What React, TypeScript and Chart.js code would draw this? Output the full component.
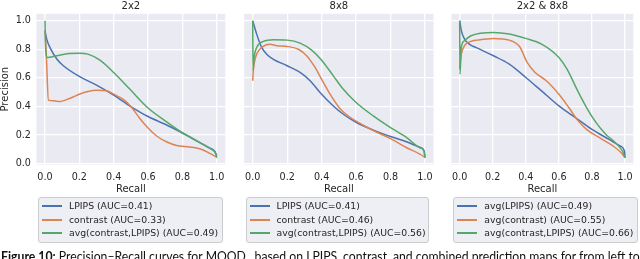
import React, { useEffect, useRef } from 'react';
import { Chart, registerables } from 'chart.js';
Chart.register(...registerables);

// ---------- data ----------
const tickValues = [0, 0.2, 0.4, 0.6, 0.8, 1.0];
const tickLabels = ['0.0', '0.2', '0.4', '0.6', '0.8', '1.0'];
const panelTitles = ['2x2', '8x8', '2x2 & 8x8'];
const xAxisTitle = 'Recall';
const yAxisTitle = 'Precision';

const legend2x2 = ['LPIPS (AUC=0.41)', 'contrast (AUC=0.33)', 'avg(contrast,LPIPS) (AUC=0.49)'];
const legend8x8 = ['LPIPS (AUC=0.41)', 'contrast (AUC=0.46)', 'avg(contrast,LPIPS) (AUC=0.56)'];
const legendBoth = ['avg(LPIPS) (AUC=0.49)', 'avg(contrast) (AUC=0.55)', 'avg(contrast,LPIPS) (AUC=0.66)'];

// 2x2
const recall2x2Lpips = [0, 0.01, 0.03, 0.07, 0.107, 0.2, 0.3, 0.4, 0.5, 0.6, 0.7, 0.8, 0.9, 0.95, 0.99, 1.0];
const precision2x2Lpips = [0.93, 0.87, 0.81, 0.73, 0.685, 0.61, 0.55, 0.48, 0.40, 0.33, 0.276, 0.215, 0.15, 0.115, 0.085, 0.055];
const recall2x2Contrast = [0, 0.008, 0.02, 0.05, 0.085, 0.15, 0.2, 0.25, 0.3, 0.36, 0.4, 0.456, 0.5, 0.55, 0.6, 0.65, 0.71, 0.767, 0.845, 0.913, 0.96, 1.0];
const precision2x2Contrast = [0.93, 0.75, 0.445, 0.44, 0.435, 0.46, 0.486, 0.505, 0.514, 0.51, 0.486, 0.45, 0.40, 0.32, 0.25, 0.194, 0.152, 0.128, 0.117, 0.10, 0.072, 0.047];
const recall2x2Avg = [0, 0.004, 0.014, 0.068, 0.14, 0.2, 0.25, 0.32, 0.4, 0.495, 0.6, 0.7, 0.8, 0.9, 0.97, 0.996, 1.0];
const precision2x2Avg = [1.0, 0.8, 0.743, 0.755, 0.77, 0.772, 0.766, 0.724, 0.638, 0.52, 0.39, 0.30, 0.217, 0.147, 0.10, 0.065, 0.042];

// 8x8
const recall8x8Lpips = [0, 0.023, 0.052, 0.081, 0.12, 0.2, 0.275, 0.333, 0.4, 0.468, 0.526, 0.6, 0.7, 0.8, 0.9, 0.97, 0.995, 1.0];
const precision8x8Lpips = [1.0, 0.906, 0.813, 0.766, 0.73, 0.685, 0.638, 0.58, 0.486, 0.404, 0.346, 0.29, 0.235, 0.19, 0.15, 0.115, 0.09, 0.045];
const recall8x8Contrast = [0, 0.004, 0.01, 0.023, 0.052, 0.1, 0.14, 0.2, 0.265, 0.313, 0.362, 0.4, 0.449, 0.507, 0.565, 0.6, 0.7, 0.8, 0.894, 0.994, 1.0];
const precision8x8Contrast = [0.58, 0.66, 0.71, 0.766, 0.813, 0.836, 0.825, 0.82, 0.80, 0.755, 0.673, 0.59, 0.486, 0.385, 0.325, 0.298, 0.232, 0.175, 0.112, 0.049, 0.042];
const recall8x8Avg = [0, 0.002, 0.008, 0.023, 0.062, 0.12, 0.2, 0.275, 0.342, 0.4, 0.468, 0.526, 0.6, 0.7, 0.8, 0.894, 0.97, 0.994, 1.0];
const precision8x8Avg = [1.0, 0.65, 0.743, 0.813, 0.855, 0.867, 0.864, 0.843, 0.794, 0.724, 0.614, 0.52, 0.428, 0.334, 0.252, 0.182, 0.112, 0.089, 0.042];

// 2x2 & 8x8
const recallBothLpips = [0, 0.01, 0.029, 0.058, 0.107, 0.204, 0.3, 0.4, 0.495, 0.6, 0.7, 0.8, 0.903, 0.97, 0.996, 1.0];
const precisionBothLpips = [1.0, 0.93, 0.872, 0.836, 0.808, 0.755, 0.696, 0.603, 0.509, 0.404, 0.322, 0.24, 0.17, 0.124, 0.089, 0.045];
const recallBothContrast = [0, 0.004, 0.01, 0.029, 0.068, 0.107, 0.204, 0.3, 0.363, 0.408, 0.456, 0.524, 0.6, 0.66, 0.709, 0.767, 0.845, 0.922, 0.977, 1.0];
const precisionBothContrast = [0.66, 0.72, 0.766, 0.825, 0.855, 0.864, 0.876, 0.864, 0.818, 0.708, 0.638, 0.58, 0.486, 0.393, 0.31, 0.24, 0.182, 0.128, 0.077, 0.042];
const recallBothAvg = [0, 0.002, 0.01, 0.029, 0.068, 0.204, 0.3, 0.4, 0.495, 0.6, 0.65, 0.709, 0.767, 0.825, 0.883, 0.942, 0.984, 1.0];
const precisionBothAvg = [1.0, 0.626, 0.813, 0.86, 0.895, 0.918, 0.907, 0.876, 0.836, 0.743, 0.66, 0.52, 0.393, 0.287, 0.206, 0.147, 0.089, 0.042];

// ---------- style / layout ----------
const COLORS = ['#4C72B0', '#DD8452', '#55A868'];
const TEXT = '#262626';
const FONT = 'DejaVu Sans';
const W = 640;
const H = 259;
const PLOT_TOP = 13.8;
const PLOT_BOTTOM = 164.6;
const X_AXIS_H = 31;

const panelGeom = [
  { plotLeft: 36.4, plotRight: 225.3, showY: true, legendLeft: 38, legendWidth: 185 },
  { plotLeft: 244.1, plotRight: 433.6, showY: false, legendLeft: 245.5, legendWidth: 183.5 },
  { plotLeft: 451.4, plotRight: 640, showY: false, legendLeft: 453.3, legendWidth: 185 },
];

const pts = (xs: number[], ys: number[]) => xs.map((x, i) => ({ x, y: ys[i] }));

const panelSeries = [
  [pts(recall2x2Lpips, precision2x2Lpips), pts(recall2x2Contrast, precision2x2Contrast), pts(recall2x2Avg, precision2x2Avg)],
  [pts(recall8x8Lpips, precision8x8Lpips), pts(recall8x8Contrast, precision8x8Contrast), pts(recall8x8Avg, precision8x8Avg)],
  [pts(recallBothLpips, precisionBothLpips), pts(recallBothContrast, precisionBothContrast), pts(recallBothAvg, precisionBothAvg)],
];
const panelLegends = [legend2x2, legend8x8, legendBoth];

const bgPlugin = {
  id: 'plotBg',
  beforeDraw(chart: any) {
    const { ctx, chartArea } = chart;
    ctx.save();
    ctx.fillStyle = '#EAEAF2';
    ctx.fillRect(chartArea.left, chartArea.top, chartArea.right - chartArea.left, chartArea.bottom - chartArea.top);
    ctx.restore();
  },
};

const setTicks = (scale: any) => {
  scale.ticks = tickValues.map((v) => ({ value: v }));
};

function Panel({ idx }: { idx: number }) {
  const ref = useRef<HTMLCanvasElement>(null);
  useEffect(() => {
    const g = panelGeom[idx];
    const yW = g.showY ? g.plotLeft : 0;
    const chart = new Chart(ref.current as HTMLCanvasElement, {
      type: 'line',
      data: {
        datasets: panelSeries[idx].map((d, i) => ({
          data: d,
          borderColor: COLORS[i],
          backgroundColor: COLORS[i],
          borderWidth: 1.5,
          pointRadius: 0,
          fill: false,
          cubicInterpolationMode: 'monotone',
          order: 2 - i,
        })),
      },
      options: {
        responsive: false,
        animation: false,
        devicePixelRatio: 1,
        layout: {
          padding: {
            left: g.plotLeft - yW,
            right: Math.max(0, W - g.plotRight),
            top: 0,
            bottom: H - PLOT_BOTTOM - X_AXIS_H,
          },
        },
        plugins: {
          legend: { display: false },
          tooltip: { enabled: false },
          title: {
            display: true,
            text: panelTitles[idx],
            fullSize: false,
            color: TEXT,
            font: { family: FONT, size: 10, weight: 'normal', lineHeight: 1.2 },
            padding: { top: 0, bottom: PLOT_TOP - 12 },
          },
        },
        scales: {
          x: {
            type: 'linear',
            min: -0.05,
            max: 1.05,
            afterBuildTicks: setTicks,
            afterFit: (s: any) => { s.height = X_AXIS_H; },
            border: { display: false },
            grid: { color: '#ffffff', lineWidth: 1.3, drawTicks: false },
            ticks: {
              autoSkip: false,
              maxRotation: 0,
              padding: 7,
              color: TEXT,
              font: { family: FONT, size: 9.6 },
              callback: (_v: any, i: number) => tickLabels[i],
            },
            title: {
              display: true,
              text: xAxisTitle,
              color: TEXT,
              font: { family: FONT, size: 10, lineHeight: 1.2 },
              padding: 0,
            },
          },
          y: {
            type: 'linear',
            min: -0.006,
            max: 1.048,
            afterBuildTicks: setTicks,
            afterFit: (s: any) => { s.width = yW; },
            border: { display: false },
            grid: { color: '#ffffff', lineWidth: 1.3, drawTicks: false },
            ticks: {
              display: g.showY,
              padding: 5.5,
              color: TEXT,
              font: { family: FONT, size: 9.6 },
              callback: (_v: any, i: number) => tickLabels[i],
            },
            title: {
              display: g.showY,
              text: yAxisTitle,
              color: TEXT,
              font: { family: FONT, size: 10, lineHeight: 1 },
              padding: 0,
            },
          },
        },
      },
      plugins: [bgPlugin],
    } as any);
    return () => chart.destroy();
  }, [idx]);
  return (
    <canvas
      ref={ref}
      width={W}
      height={H}
      style={{ position: 'absolute', left: 0, top: 0, width: W, height: H }}
    />
  );
}

function Legend({ idx }: { idx: number }) {
  const g = panelGeom[idx];
  const rowTops = [8, 22, 35];
  const top = 197;
  return (
    <div
      style={{
        position: 'absolute',
        left: g.legendLeft,
        top,
        width: g.legendWidth,
        height: 46,
        boxSizing: 'border-box',
        border: '1px solid #cccccc',
        borderRadius: 3,
        background: 'rgba(234,234,242,0.8)',
      }}
    >
      {panelLegends[idx].map((label, i) => (
        <div key={i} style={{ position: 'absolute', left: 0, top: rowTops[i] - 7, height: 14, width: '100%' }}>
          <div style={{ position: 'absolute', left: 3, top: 6, width: 20, height: 2, background: COLORS[i] }} />
          <span
            style={{
              position: 'absolute',
              left: 30,
              top: 0,
              lineHeight: '14px',
              fontSize: 9.3,
              fontFamily: FONT,
              color: TEXT,
              whiteSpace: 'nowrap',
            }}
          >
            {label}
          </span>
        </div>
      ))}
    </div>
  );
}

function Caption() {
  const ref = useRef<HTMLSpanElement>(null);
  useEffect(() => {
    const el = ref.current;
    if (el) {
      const w = el.scrollWidth;
      el.style.transform = `scaleX(${639 / w})`;
    }
  }, []);
  return (
    <div style={{ position: 'absolute', left: 1, top: 246.5, width: 640, overflow: 'visible' }}>
      <span
        ref={ref}
        style={{
          display: 'inline-block',
          whiteSpace: 'nowrap',
          transformOrigin: 'left top',
          fontFamily: 'Lato',
          fontSize: 14,
          lineHeight: 'normal',
          color: '#111',
        }}
      >
        <b>Figure 10:</b> Precision–Recall curves for MOOD<span style={{ fontSize: 8 }}> . . </span> based on LPIPS, contrast, and combined prediction maps for from left to
      </span>
    </div>
  );
}

export default function App() {
  return (
    <div style={{ position: 'absolute', left: 0, top: 0, width: W, height: H, overflow: 'hidden', background: '#fff' }}>
      {[0, 1, 2].map((i) => (
        <Panel key={'p' + i} idx={i} />
      ))}
      {[0, 1, 2].map((i) => (
        <Legend key={'l' + i} idx={i} />
      ))}
      <Caption />
    </div>
  );
}
